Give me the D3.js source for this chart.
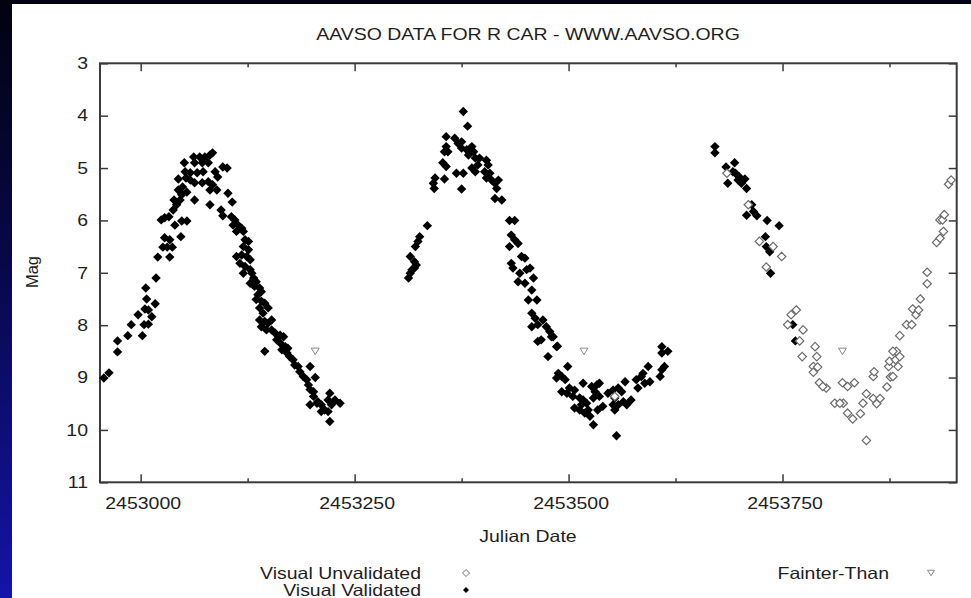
<!DOCTYPE html>
<html>
<head>
<meta charset="utf-8">
<script src="https://cdn.jsdelivr.net/npm/d3@7"></script>
<style>
  html, body { margin: 0; padding: 0; background: #000; }
  svg { display: block; }
  text { font-family: "Liberation Sans", Arial, Helvetica, sans-serif; fill: #1e1e1e; }
</style>
</head>
<body>
<svg id="chart" width="971" height="598"></svg>
<script>
// ---- Data: Julian Date and visual magnitude of R Car ----
const titleText = "AAVSO DATA FOR R CAR - WWW.AAVSO.ORG";
const xTicks = [2453000, 2453250, 2453500, 2453750];
const xMinorTicks = [2453125, 2453375, 2453625, 2453875];
const yTicks = [3, 4, 5, 6, 7, 8, 9, 10, 11];

const visualValidated = [
  // first maximum
  [2452957, 9.01], [2452963, 8.91], [2452973, 8.30], [2452973, 8.51], [2452985, 8.20],
  [2452989, 7.99], [2453002, 8.20], [2452997, 7.80], [2453006, 7.29], [2453007, 7.50],
  [2453005, 7.69], [2453009, 7.71], [2453004, 7.99], [2453009, 7.98], [2453013, 7.84],
  [2453017, 7.59], [2453018, 7.10], [2453020, 6.70], [2453034, 6.70], [2453026, 6.51],
  [2453028, 6.33], [2453034, 6.37], [2453031, 6.51], [2453037, 6.51], [2453024, 5.99],
  [2453028, 5.95], [2453033, 5.93], [2453040, 6.09], [2453047, 6.31], [2453048, 6.01],
  [2453054, 6.01], [2453038, 5.80], [2453042, 5.70], [2453039, 5.61], [2453046, 5.61],
  [2453048, 5.51], [2453044, 5.42], [2453049, 5.36], [2453054, 5.46], [2453044, 5.21],
  [2453052, 5.07], [2453051, 4.90], [2453063, 5.61], [2453058, 5.23], [2453062, 4.79],
  [2453069, 4.79], [2453075, 4.79], [2453081, 4.75], [2453084, 4.71], [2453063, 4.90],
  [2453072, 4.90], [2453079, 4.90], [2453058, 5.09], [2453066, 5.09], [2453073, 5.07],
  [2453063, 5.28], [2453072, 5.28], [2453079, 5.26], [2453084, 5.32], [2453087, 5.07],
  [2453090, 5.17], [2453096, 4.98], [2453101, 5.00], [2453081, 5.70], [2453094, 5.80],
  [2453096, 5.91], [2453102, 5.48], [2453107, 5.65], [2453053, 5.19], [2453081, 5.42],
  [2453089, 5.42],
  [2453106, 5.93], [2453110, 5.99], [2453108, 6.09], [2453114, 6.09], [2453118, 6.15],
  [2453112, 6.21], [2453120, 6.21], [2453122, 6.37], [2453126, 6.40], [2453120, 6.50],
  [2453126, 6.56], [2453118, 6.66], [2453124, 6.69], [2453128, 6.75], [2453112, 6.69],
  [2453116, 6.82], [2453122, 6.88], [2453128, 6.94], [2453120, 7.01], [2453130, 7.01],
  [2453132, 7.10], [2453135, 7.17], [2453128, 7.20], [2453133, 7.26], [2453139, 7.29],
  [2453141, 7.36], [2453137, 7.42], [2453135, 7.51], [2453141, 7.54], [2453145, 7.58],
  [2453139, 7.67], [2453149, 7.67], [2453143, 7.77], [2453139, 7.90], [2453145, 7.93],
  [2453149, 7.96], [2453141, 8.03], [2453147, 8.09], [2453153, 7.90], [2453153, 8.09],
  [2453157, 8.15], [2453163, 8.19], [2453159, 8.28], [2453167, 8.22], [2453163, 8.34],
  [2453169, 8.41], [2453165, 8.47], [2453172, 8.44], [2453171, 8.53], [2453174, 8.60],
  [2453178, 8.66], [2453180, 8.76], [2453184, 8.79], [2453186, 8.89], [2453190, 8.98],
  [2453194, 9.04], [2453196, 9.14], [2453198, 9.23], [2453202, 9.27], [2453202, 9.36],
  [2453207, 9.46], [2453211, 9.52], [2453198, 9.52], [2453215, 9.62], [2453211, 9.65],
  [2453219, 9.65], [2453221, 9.84], [2453145, 8.50], [2453198, 8.79], [2453204, 9.00],
  [2453219, 9.43], [2453223, 9.52], [2453227, 9.43], [2453233, 9.49], [2453221, 9.30],
  [2453206, 9.49],
  // second maximum and minimum
  [2453313, 7.10], [2453315, 7.01], [2453317, 6.94], [2453320, 6.91], [2453322, 6.85],
  [2453315, 6.69], [2453320, 6.79], [2453321, 6.50], [2453324, 6.40], [2453326, 6.31],
  [2453335, 6.10], [2453343, 5.39], [2453342, 5.29], [2453344, 5.19], [2453355, 5.21],
  [2453375, 5.40], [2453353, 4.90], [2453357, 4.97], [2453355, 4.69], [2453359, 4.69],
  [2453357, 4.59], [2453357, 4.40], [2453367, 4.43], [2453371, 4.53], [2453375, 4.50],
  [2453369, 5.10], [2453377, 5.10], [2453377, 3.92], [2453382, 4.20], [2453375, 4.62],
  [2453381, 4.65], [2453387, 4.59], [2453389, 4.69], [2453383, 4.75], [2453391, 4.81],
  [2453396, 4.81], [2453387, 5.00], [2453391, 5.07], [2453404, 4.85], [2453406, 4.94],
  [2453402, 5.07], [2453408, 5.10], [2453404, 5.19], [2453410, 5.23], [2453414, 5.29],
  [2453418, 5.23], [2453416, 5.39], [2453414, 5.58], [2453422, 5.61], [2453394, 4.94],
  [2453431, 6.00], [2453437, 6.00], [2453433, 6.28], [2453437, 6.37], [2453431, 6.50],
  [2453441, 6.44], [2453433, 6.82], [2453435, 6.91], [2453445, 6.69], [2453449, 6.72],
  [2453443, 7.01], [2453441, 7.17], [2453451, 6.94], [2453455, 6.91], [2453459, 7.10],
  [2453449, 7.20], [2453457, 7.33], [2453453, 7.52], [2453463, 7.52], [2453457, 7.77],
  [2453461, 7.87], [2453457, 8.03], [2453464, 8.31], [2453464, 7.99], [2453470, 7.90],
  [2453474, 8.03], [2453478, 8.12], [2453482, 8.22], [2453468, 8.28], [2453486, 8.41],
  [2453476, 8.60], [2453480, 8.22], [2453487, 8.40], [2453499, 8.79], [2453488, 8.92],
  [2453492, 8.98], [2453486, 9.01], [2453496, 9.04], [2453501, 9.20], [2453492, 9.27],
  [2453498, 9.30], [2453507, 9.24], [2453505, 9.36], [2453513, 9.39], [2453517, 9.43],
  [2453521, 9.49], [2453515, 9.52], [2453507, 9.58], [2453513, 9.62], [2453523, 9.62],
  [2453519, 9.68], [2453525, 9.74], [2453529, 9.90], [2453517, 9.11], [2453527, 9.17],
  [2453533, 9.14], [2453536, 9.11], [2453531, 9.27], [2453536, 9.36], [2453534, 9.62],
  [2453540, 9.55], [2453529, 9.39], [2453546, 9.30], [2453552, 9.24], [2453558, 9.20],
  [2453562, 9.27], [2453554, 9.39], [2453552, 9.52], [2453558, 9.52], [2453554, 9.62],
  [2453564, 9.46], [2453573, 9.43], [2453568, 9.52], [2453566, 9.08], [2453579, 9.04],
  [2453585, 8.98], [2453581, 9.20], [2453589, 9.11], [2453595, 9.08], [2453593, 8.79],
  [2453587, 8.92], [2453607, 8.98], [2453609, 8.85], [2453612, 8.79], [2453609, 8.41],
  [2453609, 8.53], [2453616, 8.50], [2453556, 10.11],
  // third maximum
  [2453671, 4.59], [2453671, 4.71], [2453684, 4.98], [2453694, 4.90], [2453692, 5.07],
  [2453686, 5.29], [2453698, 5.23], [2453702, 5.29], [2453706, 5.21], [2453708, 5.39],
  [2453714, 5.70], [2453716, 5.83], [2453708, 5.90], [2453720, 5.91], [2453732, 6.00],
  [2453746, 6.10], [2453730, 6.31], [2453731, 6.50], [2453735, 6.60], [2453736, 7.01],
  [2453762, 7.99], [2453765, 8.30], [2453695, 5.10], [2453699, 5.16]
];

const visualUnvalidated = [
  [2453554, 9.36],
  [2453685, 5.10], [2453710, 5.70], [2453723, 6.40], [2453739, 6.50], [2453749, 6.69],
  [2453731, 6.89], [2453760, 7.80], [2453766, 7.71], [2453756, 7.99], [2453774, 8.09],
  [2453770, 8.30], [2453788, 8.41], [2453773, 8.60], [2453790, 8.60], [2453786, 8.79],
  [2453791, 8.80], [2453786, 8.90], [2453793, 9.10], [2453801, 9.20], [2453797, 9.17],
  [2453811, 9.49], [2453821, 9.49], [2453817, 9.49], [2453820, 9.10], [2453826, 9.17],
  [2453834, 9.10], [2453826, 9.68], [2453832, 9.79], [2453841, 9.69], [2453844, 9.49],
  [2453848, 9.31], [2453848, 10.20], [2453856, 9.40], [2453860, 9.50], [2453864, 9.40],
  [2453856, 8.98], [2453857, 8.89], [2453872, 9.18], [2453876, 8.99], [2453874, 8.79],
  [2453875, 8.69], [2453883, 8.50], [2453882, 8.66], [2453887, 8.60], [2453885, 8.79],
  [2453887, 8.20], [2453895, 7.99], [2453901, 7.99], [2453902, 7.69], [2453906, 7.80],
  [2453909, 7.71], [2453911, 7.50], [2453919, 6.99], [2453919, 7.21], [2453930, 6.42],
  [2453934, 6.34], [2453938, 6.21], [2453934, 5.99], [2453937, 5.99], [2453939, 5.89],
  [2453944, 5.31], [2453947, 5.23], [2453879, 8.98], [2453879, 8.50]
];

const fainterThan = [
  [2453204, 8.5], [2453518, 8.5], [2453820, 8.5]
];

// ---- Layout ----
const W = 971, H = 598;
const plot = { left: 100, right: 956.7, top: 63.3, bottom: 482.3 };
const STRETCH = 1.18;   // horizontal stretch of the lettering

const svg = d3.select("#chart");

// page background: dark blue gradient with a white sheet
const defs = svg.append("defs");
const grad = defs.append("linearGradient")
  .attr("id", "bg").attr("x1", 0).attr("y1", 0).attr("x2", 0).attr("y2", 1);
grad.append("stop").attr("offset", "0%").attr("stop-color", "#020210");
grad.append("stop").attr("offset", "45%").attr("stop-color", "#08084a");
grad.append("stop").attr("offset", "100%").attr("stop-color", "#1414a8");
svg.append("rect").attr("width", W).attr("height", H).attr("fill", "url(#bg)");
svg.append("rect").attr("x", 12).attr("y", 4).attr("width", W - 12).attr("height", H - 4)
  .attr("fill", "#ffffff");

// ---- Scales ----
const x = d3.scaleLinear().domain([2452952.5, 2453953.5]).range([plot.left, plot.right]);
const y = d3.scaleLinear().domain([3, 11]).range([plot.top, plot.bottom]);

function stretchText(sel) {
  sel.each(function () {
    const w = this.getComputedTextLength();
    this.setAttribute("textLength", (w * STRETCH).toFixed(1));
    this.setAttribute("lengthAdjust", "spacingAndGlyphs");
  });
}

const axisColor = "#3a3a3a";
const fontSize = 16.5;

// ---- Axes (ticks point inward, mirrored on top and right) ----
const gBottom = svg.append("g").attr("transform", `translate(0,${plot.bottom})`)
  .call(d3.axisBottom(x).tickValues(xTicks).tickSize(-8).tickPadding(15).tickFormat(d3.format("d")));
const gBottomMinor = svg.append("g").attr("transform", `translate(0,${plot.bottom})`)
  .call(d3.axisBottom(x).tickValues(xMinorTicks).tickSize(-4).tickFormat(""));
const gTop = svg.append("g").attr("transform", `translate(0,${plot.top})`)
  .call(d3.axisTop(x).tickValues(xTicks).tickSize(-8).tickFormat(""));
const gTopMinor = svg.append("g").attr("transform", `translate(0,${plot.top})`)
  .call(d3.axisTop(x).tickValues(xMinorTicks).tickSize(-4).tickFormat(""));
const gLeft = svg.append("g").attr("transform", `translate(${plot.left},0)`)
  .call(d3.axisLeft(y).tickValues(yTicks).tickSize(-8).tickPadding(12).tickFormat(d3.format("d")));
const gRight = svg.append("g").attr("transform", `translate(${plot.right},0)`)
  .call(d3.axisRight(y).tickValues(yTicks).tickSize(-8).tickFormat(""));

[gBottom, gBottomMinor, gTop, gTopMinor, gLeft, gRight].forEach(g => {
  g.select(".domain").remove();
  g.selectAll(".tick line").attr("stroke", axisColor).attr("stroke-width", 1.5);
  g.selectAll(".tick text")
    .attr("fill", "#1e1e1e")
    .style("font-family", '"Liberation Sans", Arial, sans-serif')
    .style("font-size", fontSize + "px");
});
gBottom.selectAll(".tick text").attr("dx", 2).call(stretchText);
gLeft.selectAll(".tick text").call(stretchText);

// frame
svg.append("rect")
  .attr("x", plot.left).attr("y", plot.top)
  .attr("width", plot.right - plot.left).attr("height", plot.bottom - plot.top)
  .attr("fill", "none").attr("stroke", axisColor).attr("stroke-width", 2);

// ---- Titles ----
svg.append("text")
  .attr("x", 528).attr("y", 40).attr("text-anchor", "middle")
  .style("font-size", fontSize + "px")
  .text(titleText).call(stretchText);

svg.append("text")
  .attr("x", 528).attr("y", 542).attr("text-anchor", "middle")
  .style("font-size", fontSize + "px")
  .text("Julian Date").call(stretchText);

svg.append("text")
  .attr("transform", "translate(38,272) rotate(-90)")
  .attr("text-anchor", "middle")
  .style("font-size", fontSize + "px")
  .text("Mag");

// ---- Markers ----
const diamond = r => `M0,${-r}L${r},0L0,${r}L${-r},0Z`;
const triangleDown = (w, h) => `M${-w / 2},${-h / 2}L${w / 2},${-h / 2}L0,${h / 2}Z`;

const marks = svg.append("g");

marks.append("g").selectAll("path")
  .data(visualValidated)
  .join("path")
  .attr("transform", d => `translate(${x(d[0])},${y(d[1])})`)
  .attr("d", diamond(4.7))
  .attr("fill", "#000");

marks.append("g").selectAll("path")
  .data(visualUnvalidated)
  .join("path")
  .attr("transform", d => `translate(${x(d[0])},${y(d[1])})`)
  .attr("d", diamond(4.2))
  .attr("fill", "#fff")
  .attr("stroke", "#6a6a6a")
  .attr("stroke-width", 1.2);

marks.append("g").selectAll("path")
  .data(fainterThan)
  .join("path")
  .attr("transform", d => `translate(${x(d[0])},${y(d[1])})`)
  .attr("d", triangleDown(8, 6.5))
  .attr("fill", "#fff")
  .attr("stroke", "#8a8a8a")
  .attr("stroke-width", 1);

// ---- Legend ----
const legendItems = [
  { label: "Visual Unvalidated", tx: 421, ty: 579, sx: 466, sy: 573, kind: "open" },
  { label: "Visual Validated",   tx: 421, ty: 595.5, sx: 466, sy: 590, kind: "filled" },
  { label: "Fainter-Than",       tx: 889, ty: 579, sx: 931, sy: 573, kind: "fainter" }
];
const legend = svg.append("g");
legend.selectAll("text")
  .data(legendItems)
  .join("text")
  .attr("x", d => d.tx).attr("y", d => d.ty)
  .attr("text-anchor", "end")
  .style("font-size", fontSize + "px")
  .text(d => d.label)
  .call(stretchText);
legend.selectAll("path")
  .data(legendItems)
  .join("path")
  .attr("transform", d => `translate(${d.sx},${d.sy})`)
  .attr("d", d => d.kind === "fainter" ? triangleDown(7, 5.5) : diamond(d.kind === "open" ? 3.5 : 3))
  .attr("fill", d => d.kind === "filled" ? "#000" : "#fff")
  .attr("stroke", d => d.kind === "filled" ? "none" : (d.kind === "open" ? "#707070" : "#8a8a8a"))
  .attr("stroke-width", 1);
</script>
</body>
</html>
